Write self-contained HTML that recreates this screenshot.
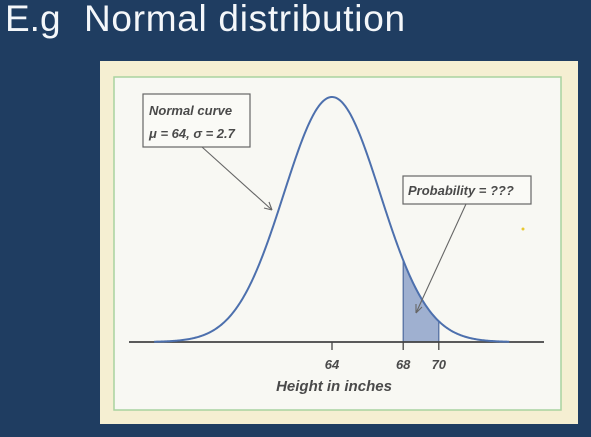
<!DOCTYPE html>
<html><head><meta charset="utf-8">
<style>
html,body{margin:0;padding:0;width:591px;height:437px;overflow:hidden;background:#1f3d61;}
.t{position:absolute;top:-2px;color:#f4f7fa;font:37px "Liberation Sans",sans-serif;white-space:nowrap;}
svg{position:absolute;left:0;top:0;}
.hand{font-family:"Liberation Sans",sans-serif;font-style:italic;fill:#4a4a4a;}
</style></head><body>
<div class="t" style="left:5px">E.g</div>
<div class="t" style="left:84px;letter-spacing:0.7px">Normal distribution</div>
<svg width="591" height="437">
<rect x="100" y="61" width="478" height="363" fill="#f5efd2"/>
<rect x="114" y="77" width="447" height="333" fill="#f8f8f3" stroke="#a9d3a0" stroke-width="1.5"/>
<g id="plot"></g>
<g>
<rect x="143" y="94" width="107" height="53" fill="#fafaf6" stroke="#666" stroke-width="1.2"/>
<text class="hand" x="149" y="115" font-size="13" font-weight="bold">Normal curve</text>
<text class="hand" x="149" y="138" font-size="13" font-weight="bold">μ = 64, σ = 2.7</text>
<line x1="202" y1="147" x2="272" y2="210" stroke="#666" stroke-width="1.1"/>
<path d="M272,210 l-8,-2 M272,210 l-3,-8" stroke="#666" stroke-width="1.1" fill="none"/>
</g>
<g>
<rect x="403" y="176" width="128" height="28" fill="#fafaf6" stroke="#666" stroke-width="1.2"/>
<text class="hand" x="408" y="195" font-size="13" font-weight="bold">Probability = ???</text>
<line x1="466" y1="204" x2="416" y2="313" stroke="#666" stroke-width="1.1"/>
<path d="M416,313 l0,-9 M416,313 l6,-6" stroke="#666" stroke-width="1.1" fill="none"/>
</g>
<circle cx="523" cy="229" r="1.5" fill="#e8c830"/>
</svg>
<script>
const mu = [64];
const sigma = [2.7];
const shadeRange = [68, 70];
const tickValues = [64, 68, 70];
const tickLabels = ["64", "68", "70"];
const axisTitle = ["Height in inches"];

const NS = "http://www.w3.org/2000/svg";
const g = document.getElementById("plot");
const x0 = 332, pxPerInch = 17.8, baseY = 342, peakH = 245;
const xs = v => x0 + (v - 64) * pxPerInch;
const pdf = v => Math.exp(-0.5 * Math.pow((v - mu[0]) / sigma[0], 2));
const ys = v => baseY - pdf(v) * peakH;
function mk(tag, attrs){const e=document.createElementNS(NS,tag);for(const k in attrs)e.setAttribute(k,attrs[k]);g.appendChild(e);return e;}

let d = "M" + xs(shadeRange[0]) + "," + baseY;
for (let v = shadeRange[0]; v <= shadeRange[1] + 1e-9; v += 0.05) d += " L" + xs(v).toFixed(2) + "," + ys(v).toFixed(2);
d += " L" + xs(shadeRange[1]) + "," + baseY + " Z";
const sh = mk("path", {d: d, fill: "#9fb0d0", stroke: "#4e6a9e", "stroke-width": 1.2});



const ax = mk("line", {x1: 129, y1: baseY, x2: 544, y2: baseY, stroke: "#444", "stroke-width": 1.8});



const lo = mu[0] - 3.7 * sigma[0], hi = mu[0] + 3.7 * sigma[0];
let c = "";
for (let v = lo; v <= hi; v += 0.05) c += (c ? " L" : "M") + xs(v).toFixed(2) + "," + ys(v).toFixed(2);
const cv = mk("path", {d: c, fill: "none", stroke: "#4d70ad", "stroke-width": 2});



tickValues.forEach((v, i) => {
  const t = mk("line", {x1: xs(v), y1: baseY, x2: xs(v), y2: baseY + 8, stroke: "#444", "stroke-width": 1.3});
  
  
  const l = mk("text", {x: xs(v), y: baseY + 27, "text-anchor": "middle", "font-size": 13, "font-weight": "bold", class: "hand"});
  l.textContent = tickLabels[i];
  
  
});
const at = mk("text", {x: 334, y: baseY + 49, "text-anchor": "middle", "font-size": 15, "font-weight": "bold", class: "hand"});
at.textContent = axisTitle[0];


</script>
</body></html>
